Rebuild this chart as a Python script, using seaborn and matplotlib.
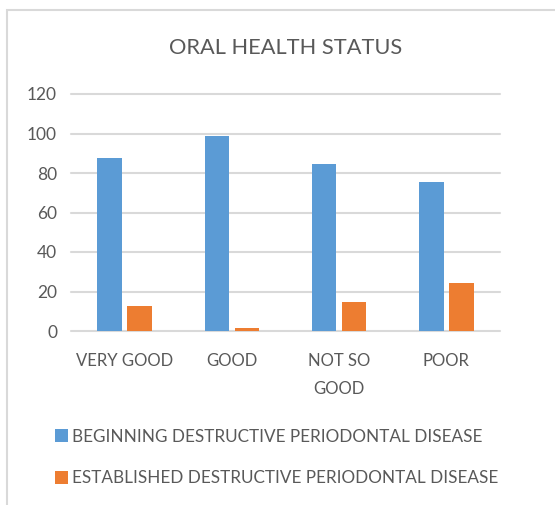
import matplotlib
matplotlib.use("Agg")
import matplotlib.pyplot as plt
import seaborn as sns
import pandas as pd
from matplotlib.patches import Rectangle

# ---- data ----
categories = ["VERY GOOD", "GOOD", "NOT SO\nGOOD", "POOR"]
beginning = [87.5, 98.5, 84.5, 75.5]
established = [12.5, 1.5, 14.5, 24.5]
series_names = ["BEGINNING DESTRUCTIVE PERIODONTAL DISEASE",
                "ESTABLISHED DESTRUCTIVE PERIODONTAL DISEASE"]
y_ticks = [0, 20, 40, 60, 80, 100, 120]
title = "ORAL HEALTH STATUS"

sns.set_theme(style="white")
plt.rcParams['font.family'] = ['Lato', 'DejaVu Sans']
TXT = "#595959"

df = pd.DataFrame({
    "category": categories * 2,
    "value": beginning + established,
    "series": [series_names[0]] * len(categories) + [series_names[1]] * len(categories),
})

W, H = 555, 505
fig = plt.figure(figsize=(W / 100, H / 100), dpi=100)
fig.patch.set_facecolor("white")

# outer chart border (cropped on right/bottom)
fig.patches.append(Rectangle((7 / W, -0.2), 1.2, 1.2 - 10 / H, transform=fig.transFigure,
                             fill=False, edgecolor="#D9D9D9", linewidth=1.5, clip_on=False))

ax = fig.add_axes([71 / W, 1 - 331 / H, (500 - 71) / W, (331 - 94) / H])
sns.barplot(data=df, x="category", y="value", hue="series",
            palette=["#5B9BD5", "#ED7D31"], saturation=1, width=0.56, gap=0.18,
            edgecolor="none", linewidth=0, ax=ax, zorder=3)

ax.set_ylim(0, 120)
ax.set_yticks(y_ticks)
ax.yaxis.grid(True, color="#D9D9D9", linewidth=1.5)
ax.set_axisbelow(True)
for gl in ax.get_ygridlines():
    gl.set_clip_on(False)
for s in ax.spines.values():
    s.set_visible(False)
ax.set_xlabel("")
ax.set_ylabel("")
ax.tick_params(axis="y", length=0, pad=10, labelsize=12.5, labelcolor=TXT)
ax.tick_params(axis="x", length=0, pad=16, labelsize=12, labelcolor=TXT)
for lab in ax.get_xticklabels():
    lab.set_linespacing(1.9)

handles, labels = ax.get_legend_handles_labels()
ax.get_legend().remove()
fig.legend(handles, labels, loc="center left",
           bbox_to_anchor=(55 / W, 1 - 457.5 / H), frameon=False,
           fontsize=12.3, labelcolor=TXT, handlelength=0.75, handleheight=0.75,
           handletextpad=0.25, labelspacing=1.5, borderpad=0, borderaxespad=0)

fig.text(285.5 / W, 1 - 48 / H, title, ha="center", va="center",
         fontsize=15.7, color=TXT)

fig.savefig("out.png", dpi=100, facecolor="white")
